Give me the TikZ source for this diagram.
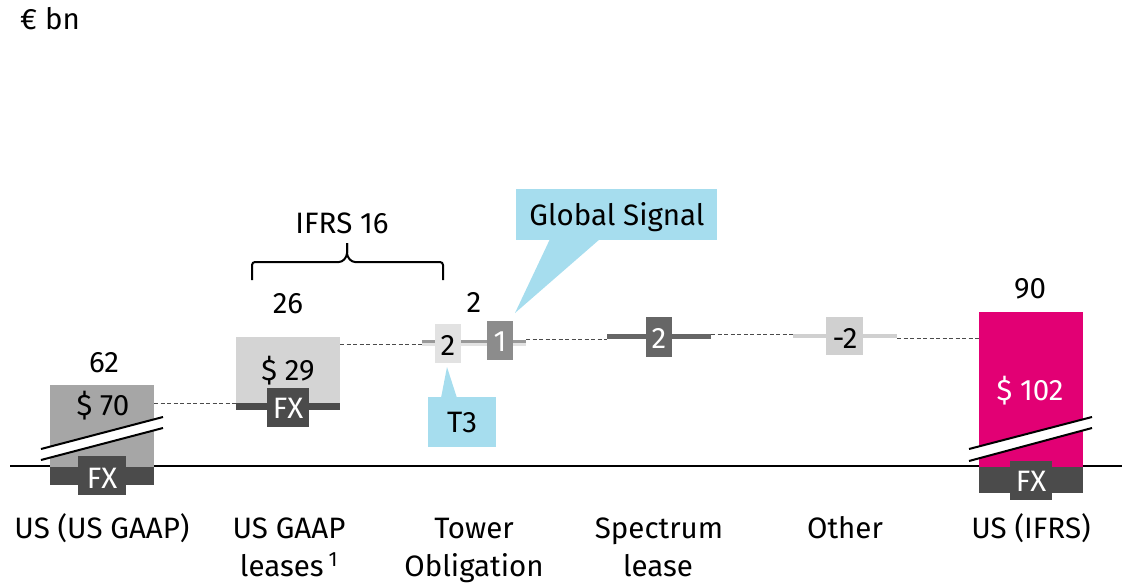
\documentclass[tikz,border=0pt]{standalone}
\usepackage{fontspec}
\setmainfont{Fira Sans}
\usetikzlibrary{calc}
\definecolor{gA}{HTML}{A6A6A6}
\definecolor{gB}{HTML}{D4D4D4}
\definecolor{gDark}{HTML}{4B4B4B}
\definecolor{gT}{HTML}{E2E2E2}
\definecolor{gLine}{HTML}{999999}
\definecolor{gGS}{HTML}{8C8C8C}
\definecolor{gSp}{HTML}{666666}
\definecolor{gOt}{HTML}{D0D0D0}
\definecolor{mag}{HTML}{E20074}
\definecolor{callout}{HTML}{A6DDEE}
\begin{document}
\begin{tikzpicture}[x=1pt,y=-1pt,
  font=\fontsize{29.5}{33}\selectfont,
  box/.style={draw=none,inner sep=0pt,outer sep=0pt,anchor=north west},
  txt/.style={inner sep=0pt,anchor=base},
  wtxt/.style={txt,text=white},
  conn/.style={draw=gDark,line width=0.8pt,dash pattern=on 4pt off 2.5pt},
  brk/.style={black,line width=2pt},
]
\useasboundingbox (0,0) rectangle (1132,583);
% axis
\coordinate (axL) at (10,466);
\coordinate (axR) at (1122,466);
\draw[line width=1.5pt] (axL) -- (axR);
% bar 1
\node[box,fill=gA,minimum width=104pt,minimum height=82pt] (b1) at (50,385) {};
\node[box,fill=gDark,minimum width=104pt,minimum height=18pt] (b1band) at (50,467) {};
\node[box,fill=gDark,minimum width=48pt,minimum height=39pt] (b1fx) at (78,456) {};
\node[wtxt] (b1fxt) at (102,488) {FX};
\fill[white] (41,449) -- (163,417) -- (163,428) -- (41,460) -- cycle;
\coordinate (k1a) at (41,449); \coordinate (k1b) at (163,417);
\coordinate (k1c) at (41,460); \coordinate (k1d) at (163,428);
\draw[brk] (k1a) -- (k1b);
\draw[brk] (k1c) -- (k1d);
\node[txt] (b1t) at (103,415) {\$ 70};
\node[txt] (b1v) at (104,372) {62};
% bar 2
\node[box,fill=gB,minimum width=104pt,minimum height=66pt] (b2) at (236,337) {};
\node[box,fill=gDark,minimum width=104pt,minimum height=7pt] (b2band) at (236,403) {};
\node[box,fill=gDark,minimum width=42pt,minimum height=39pt] (b2fx) at (267,388) {};
\node[wtxt] (b2fxt) at (288,418) {FX};
\node[txt] (b2t) at (288,380) {\$ 29};
\node[txt] (b2v) at (288,313) {26};
\draw[conn] (b1.north east |- b2band.north west) -- (b2band.north west);
% tower obligation
\node[box,fill=gT,minimum width=104pt,minimum height=4pt] (tband) at (422,342) {};
\node[box,fill=gLine,minimum width=104pt,minimum height=2.5pt] (tline) at (422,340) {};
\draw[conn] (b2.north east |- 0,344) coordinate (c2a) -- (tband.west);
\node[box,fill=gT,minimum width=26pt,minimum height=39pt] (t3box) at (435,324) {};
\node[txt] (t3t) at (448,355) {2};
\node[box,fill=gGS,minimum width=26pt,minimum height=39pt] (gsbox) at (487,321) {};
\node[wtxt] (gst) at (500,351) {1};
\node[txt] (tv) at (474,312) {2};
% spectrum
\node[box,fill=gSp,minimum width=104pt,minimum height=5pt] (sband) at (607,334) {};
\node[box,fill=gSp,minimum width=26pt,minimum height=40pt] (sbox) at (646,317) {};
\node[wtxt] (st) at (659,348) {2};
\draw[conn] (tline.east |- 0,339) -- (sband.south west);
% other
\node[box,fill=gOt,minimum width=104pt,minimum height=4pt] (oband) at (793,334) {};
\node[box,fill=gOt,minimum width=37pt,minimum height=38pt] (obox) at (826,317) {};
\node[txt] (ot) at (845,348) {-2};
\draw[conn] (sband.north east) -- (oband.north west);
% bar US IFRS
\node[box,fill=mag,minimum width=104pt,minimum height=155pt] (b3) at (979,312) {};
\node[box,fill=gDark,minimum width=104pt,minimum height=26pt] (b3band) at (979,467) {};
\node[box,fill=gDark,minimum width=42pt,minimum height=39pt] (b3fx) at (1010,461) {};
\node[wtxt] (b3fxt) at (1031,491) {FX};
\fill[white] (969,449) -- (1092,417) -- (1092,428) -- (969,461) -- cycle;
\coordinate (k3a) at (969,449); \coordinate (k3b) at (1092,417);
\coordinate (k3c) at (969,461); \coordinate (k3d) at (1092,428);
\draw[brk] (k3a) -- (k3b);
\draw[brk] (k3c) -- (k3d);
\node[wtxt] (b3t) at (1030,400) {\$ 102};
\node[txt] (b3v) at (1030,298) {90};
\draw[conn] (oband.south east) -- (b3.west |- oband.south east);
% callouts
\node[box,fill=callout,minimum width=201pt,minimum height=51pt] (gsc) at (516,189) {};
\fill[callout] (550,239) -- (600,239) -- (515,313) -- cycle;
\node[txt] (gsct) at (617,225) {Global Signal};
\node[box,fill=callout,minimum width=68pt,minimum height=50pt] (t3c) at (428,397) {};
\fill[callout] (441,398) -- (457,398) -- (447,367) -- cycle;
\node[txt] (t3ct) at (462,432) {T3};
% brace
\coordinate (brL) at (252,280);
\coordinate (brR) at (443,280);
\coordinate (brM) at (347,243);
\draw[line width=2pt,rounded corners=3pt] (brL) -- (252,262) -- (342,262) -- (347,256) -- (brM);
\draw[line width=2pt,rounded corners=3pt] (brR) -- (443,262) -- (352,262) -- (347,256) -- (brM);
\node[txt] (ifrs) at (342,233) {IFRS 16};
% unit
\node[txt,anchor=base west] (unit) at (20,30) {€ bn};
% category labels
\node[txt] (l1) at (102,538) {US (US GAAP)};
\node[txt] (l2a) at (289,538) {US GAAP};
\node[txt] (l2b) at (289,576) {leases\,\textsuperscript{1}};
\node[txt] (l3a) at (474,538) {Tower};
\node[txt] (l3b) at (474,576) {Obligation};
\node[txt] (l4a) at (659,538) {Spectrum};
\node[txt] (l4b) at (658,576) {lease};
\node[txt] (l5) at (845,538) {Other};
\node[txt] (l6) at (1031,538) {US (IFRS)};
\end{tikzpicture}
\end{document}
